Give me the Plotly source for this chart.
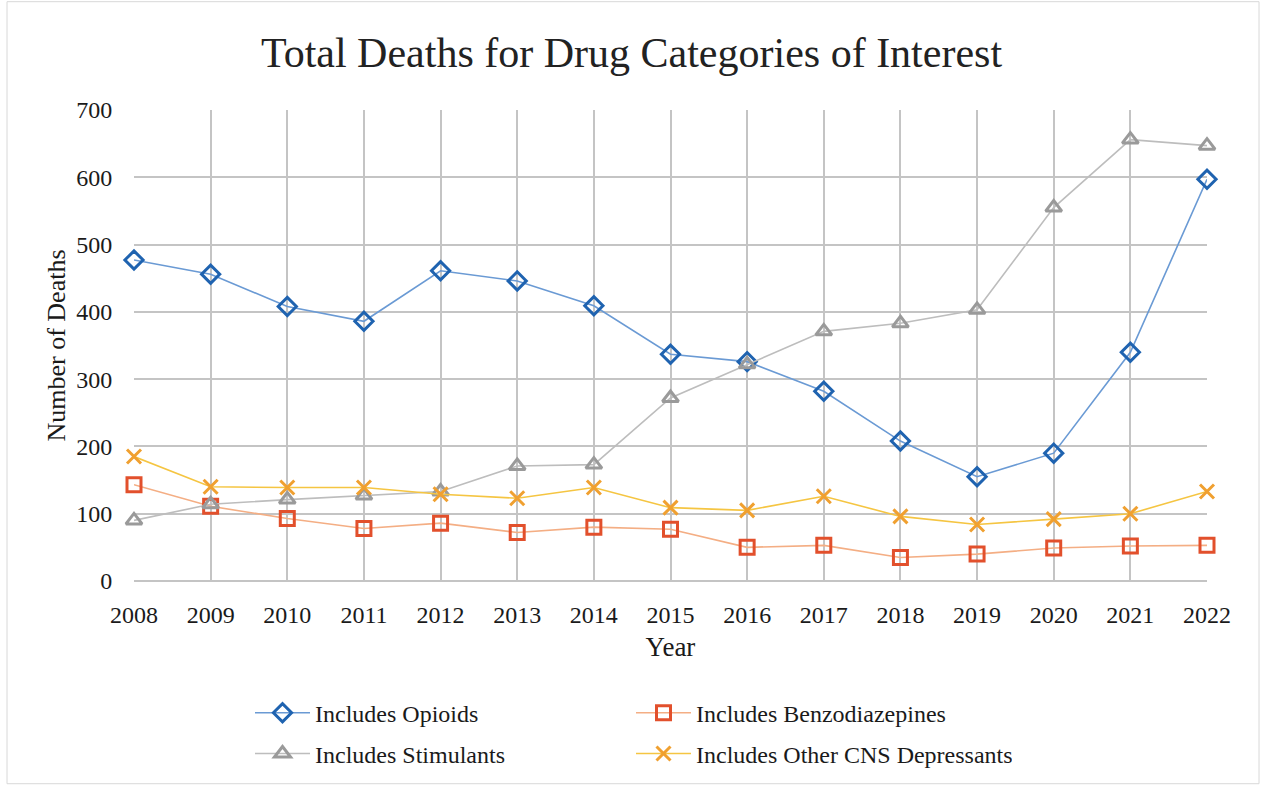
import plotly.graph_objects as go

years = list(range(2008, 2023))
opioids = [477, 456, 408, 386, 461, 446, 409, 337, 326, 282, 208, 155, 190, 340, 597]
benzodiazepines = [143, 111, 93, 78, 86, 72, 80, 77, 50, 53, 35, 40, 49, 52, 53]
stimulants = [90, 114, 121, 127, 133, 171, 173, 272, 322, 371, 383, 403, 555, 656, 647]
other_cns = [185, 140, 139, 139, 129, 123, 139, 109, 105, 126, 96, 84, 92, 100, 133]

FONT = "Liberation Serif"
TXT = "#1a1a1a"

# name, values, line colour, marker colour, symbol, legend row
series = [
    ("Includes Opioids", opioids, "#6A9AD4", "#1F63B0", "diamond-open", "legend"),
    ("Includes Benzodiazepines", benzodiazepines, "#F4AE84", "#E2502C", "square-open", "legend"),
    ("Includes Stimulants", stimulants, "#BDBDBD", "#9A9A9A", "triangle-up-open", "legend2"),
    ("Includes Other CNS Depressants", other_cns, "#F5C542", "#F0A030", "x-thin-open", "legend2"),
]

fig = go.Figure()
for name, vals, lc, mc, sym, leg in series:
    fig.add_trace(go.Scatter(
        x=years, y=vals, name=name, mode="lines+markers",
        line=dict(color=lc, width=1.6),
        marker=dict(symbol=sym, size=14, color=mc, line=dict(color=mc, width=3)),
        cliponaxis=False, legend=leg,
    ))

PW, PH, ML, MB = 1073, 474, 134, 205


def px_x(x):
    return (x - ML) / PW


def px_y(y):
    return (789 - MB - y) / PH


legend_common = dict(orientation="h", xanchor="left", yanchor="middle",
                     entrywidth=311, entrywidthmode="pixels", itemwidth=55,
                     bgcolor="rgba(0,0,0,0)",
                     font=dict(family=FONT, size=24, color=TXT))

fig.update_layout(
    width=1263, height=789,
    paper_bgcolor="white", plot_bgcolor="white",
    margin=dict(l=ML, r=56, t=110, b=MB),
    font=dict(family=FONT, color=TXT),
    title=dict(text="Total Deaths for Drug Categories of Interest",
               x=0.5, xanchor="center", y=0.934, yanchor="middle",
               font=dict(family=FONT, size=42, color="#222")),
    xaxis=dict(range=[2008, 2022], tickmode="array", tickvals=years,
               ticktext=[str(y) for y in years],
               showgrid=True, gridcolor="#C4C4C4", gridwidth=1.5,
               showline=False, zeroline=False,
               ticks="outside", ticklen=12, tickcolor="rgba(0,0,0,0)",
               tickfont=dict(family=FONT, size=24, color=TXT),
               title=dict(text="Year", font=dict(family=FONT, size=27, color=TXT), standoff=10)),
    yaxis=dict(range=[0, 700], dtick=100,
               showgrid=True, gridcolor="#C4C4C4", gridwidth=1.5,
               zeroline=True, zerolinecolor="#C4C4C4", zerolinewidth=1.5,
               showline=False,
               ticks="outside", ticklen=16, tickcolor="rgba(0,0,0,0)",
               tickfont=dict(family=FONT, size=24, color=TXT),
               title=dict(text="Number of Deaths", font=dict(family=FONT, size=26, color=TXT), standoff=3)),
    legend=dict(x=px_x(250), y=px_y(717), **legend_common),
    legend2=dict(x=px_x(250), y=px_y(758), **legend_common),
    showlegend=True,
)

# light frame around the chart area
fig.add_shape(type="rect", xref="paper", yref="paper",
              x0=px_x(7), x1=px_x(1259),
              y0=px_y(788), y1=px_y(1),
              line=dict(color="#D8D8D8", width=1), layer="below")

fig.write_html("out.html")
